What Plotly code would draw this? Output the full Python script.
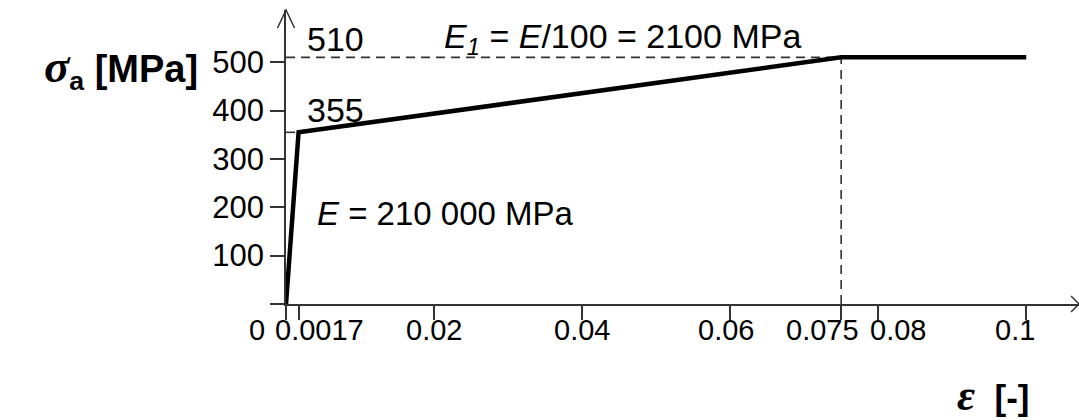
import plotly.graph_objects as go

# ---- data ----
strain = [0, 0.0017, 0.075, 0.1]
stress = [0, 355, 510, 510]
eps_y = 0.0017
eps_u = 0.075
f_y = 355
f_u = 510
x_ticks = [0, 0.0017, 0.02, 0.04, 0.06, 0.075, 0.08, 0.1]
x_labels = ["0", "0.0017", "0.02", "0.04", "0.06", "0.075", "0.08", "0.1"]
y_ticks = [0, 100, 200, 300, 400, 500]
y_labels = ["", "100", "200", "300", "400", "500"]

SANS = "Liberation Sans, Arial, sans-serif"
AX = "#333333"
W, H = 1079, 420
ML, MR, MT, MB = 286, 0, 10, 116
PW, PH = W - ML - MR, H - MT - MB
XSCALE = 7402.0   # px per unit strain
YSCALE = 0.4836   # px per MPa

# horizontal nudges of x tick labels (px) to avoid overlap, as in the original
x_label_nudge = [-29, 21, 0, 0, -4, -19, 20, -11]

fig = go.Figure()

dash = "9px,6px"
fig.add_trace(go.Scatter(x=[0, eps_u], y=[f_u, f_u], mode="lines",
                         line=dict(color=AX, width=1.6, dash=dash), hoverinfo="skip"))
fig.add_trace(go.Scatter(x=[eps_u, eps_u], y=[0, f_u], mode="lines",
                         line=dict(color=AX, width=1.6, dash=dash), hoverinfo="skip"))
fig.add_trace(go.Scatter(x=[0, eps_y], y=[f_y, f_y], mode="lines",
                         line=dict(color=AX, width=1.6, dash=dash), hoverinfo="skip"))
fig.add_trace(go.Scatter(x=strain, y=stress, mode="lines",
                         line=dict(color="black", width=4.5), cliponaxis=False))

ann_font = dict(family=SANS, size=34, color="black")
xtick_font = dict(family=SANS, size=29, color="black")
ytick_font = dict(family=SANS, size=31, color="black")
annotations = [
    dict(x=0.0025, y=549, xref="x", yref="y", text="510", showarrow=False,
         xanchor="left", yanchor="middle", font=ann_font),
    dict(x=0.0025, y=402, xref="x", yref="y", text="355", showarrow=False,
         xanchor="left", yanchor="middle", font=ann_font),
    dict(x=0.0211, y=549, xref="x", yref="y",
         text="<i>E<sub>1</sub></i> = <i>E</i>/100 = 2100 MPa", showarrow=False,
         xanchor="left", yanchor="middle", font=ann_font),
    dict(x=0.0039, y=187, xref="x", yref="y",
         text="<i>E</i> = 210 000 MPa", showarrow=False,
         xanchor="left", yanchor="middle", font=dict(family=SANS, size=33, color="black")),
    dict(x=0, y=487, xref="paper", yref="y", xshift=-86,
         text="<b><span style='font-family:Liberation Serif;font-size:47px'><i>σ</i></span><sub>a</sub> [MPa]</b>",
         showarrow=False, xanchor="right", yanchor="middle",
         font=dict(family=SANS, size=38, color="black")),
    dict(x=0.10045, y=0, xref="x", yref="paper", yshift=-91, borderpad=0,
         text="<b><span style='font-family:Liberation Serif;font-size:44px'><i>ε</i></span>  [-]</b>",
         showarrow=False, xanchor="right", yanchor="middle",
         font=dict(family=SANS, size=35, color="black")),
]
for xv, lab, dx in zip(x_ticks, x_labels, x_label_nudge):
    annotations.append(dict(x=xv, y=0, xref="x", yref="paper", xshift=dx, yshift=-8,
                            text=lab, showarrow=False, xanchor="center", yanchor="top",
                            font=xtick_font))

# axis arrowheads (paper coords)
ax_dx = 8.5 / PW
ax_dy = 18.0 / PH
shapes = [
    dict(type="path", xref="paper", yref="paper",
         path=f"M {-ax_dx},{1-ax_dy} L 0,1 L {ax_dx},{1-ax_dy}",
         line=dict(color=AX, width=1.5)),
    dict(type="path", xref="paper", yref="paper",
         path=f"M {1-8.0/PW},{8.0/PH} L 1,0 L {1-8.0/PW},{-8.0/PH}",
         line=dict(color=AX, width=1.5)),
]

fig.update_layout(
    width=W, height=H,
    margin=dict(l=ML, r=MR, t=MT, b=MB, pad=0),
    paper_bgcolor="white", plot_bgcolor="white",
    showlegend=False,
    annotations=annotations,
    shapes=shapes,
    xaxis=dict(range=[0, PW / XSCALE], showgrid=False, zeroline=False,
               showline=True, linecolor=AX, linewidth=1.5,
               ticks="outside", ticklen=14, tickwidth=1.5, tickcolor=AX,
               tickvals=x_ticks, showticklabels=False),
    yaxis=dict(range=[0, PH / YSCALE], showgrid=False, zeroline=False,
               showline=True, linecolor=AX, linewidth=1.5,
               ticks="outside", ticklen=14, tickwidth=1.5, tickcolor=AX,
               tickvals=y_ticks, ticktext=y_labels,
               tickfont=ytick_font),
)

fig.write_html("out.html")
